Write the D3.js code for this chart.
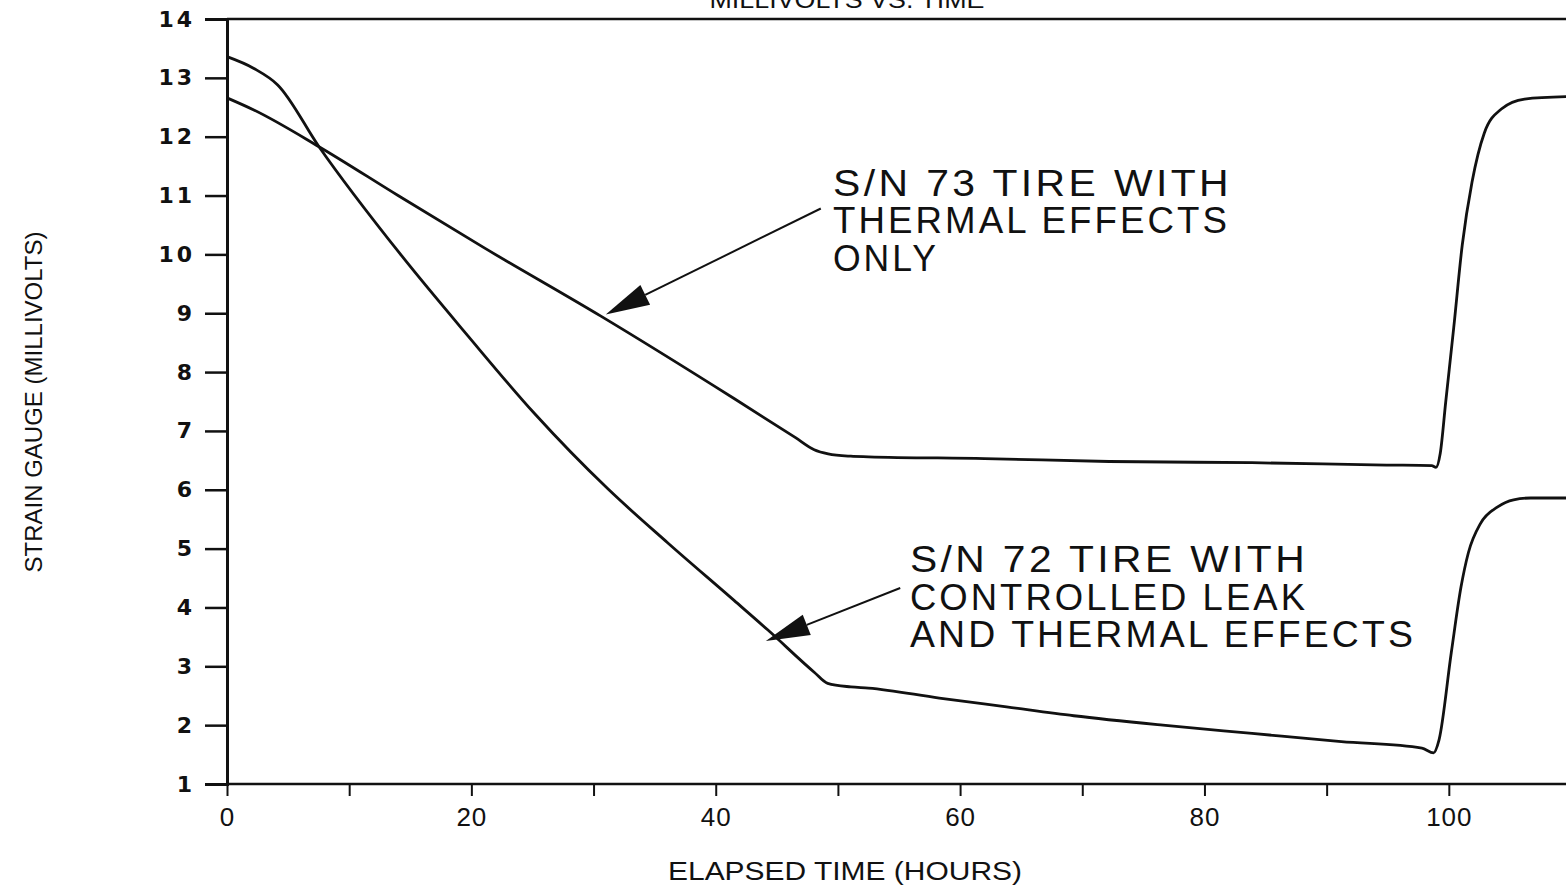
<!DOCTYPE html>
<html>
<head>
<meta charset="utf-8">
<script src="https://cdn.jsdelivr.net/npm/d3@7"></script>
<style>
  html, body { margin: 0; padding: 0; background: #fff; }
  svg { display: block; }
</style>
</head>
<body>
<svg id="chart" width="1566" height="886"></svg>
<script>
// ---- Data ----
const hours73 = [0, 2.24, 7.53, 14.0, 21.06, 30.6, 41.5, 46.5, 48.06, 49.2, 51.06, 52.5, 62, 72.2, 83.9, 94.9, 98.6, 98.95, 99.3, 99.75, 100.4, 101.1, 101.9, 102.9, 104.3, 106.2, 109.7];
const mv73    = [12.66, 12.45, 11.83, 11.0, 10.11, 8.95, 7.55, 6.89, 6.68, 6.61, 6.57, 6.56, 6.53, 6.48, 6.46, 6.42, 6.41, 6.38, 6.62, 7.5, 8.75, 10.16, 11.23, 12.06, 12.47, 12.64, 12.68];

const hours72 = [0, 2.2, 4.15, 7.53, 14.24, 19.7, 25.15, 31.15, 36.06, 41.5, 44.25, 48.06, 49.16, 51.06, 52.5, 58.3, 63.8, 69.3, 76.6, 83.9, 91.2, 97.8, 98.75, 99.2, 100.2, 101.0, 101.6, 102.6, 104.0, 105.3, 106.7, 109.7];
const mv72    = [13.36, 13.16, 12.88, 11.83, 9.99, 8.62, 7.30, 6.02, 5.1, 4.12, 3.62, 2.9, 2.71, 2.65, 2.63, 2.46, 2.31, 2.16, 2.0, 1.86, 1.72, 1.61, 1.53, 1.75, 3.23, 4.35, 4.93, 5.43, 5.71, 5.83, 5.86, 5.86];

const yTickValues = [1, 2, 3, 4, 5, 6, 7, 8, 9, 10, 11, 12, 13, 14];
const xTickValues = [0, 10, 20, 30, 40, 50, 60, 70, 80, 90, 100];
const xLabelValues = [0, 20, 40, 60, 80, 100];

const titleText = "MILLIVOLTS VS. TIME";
const xTitle = "ELAPSED TIME (HOURS)";
const yTitle = "STRAIN GAUGE (MILLIVOLTS)";
const note73 = ["S/N 73 TIRE WITH", "THERMAL EFFECTS", "ONLY"];
const note72 = ["S/N 72 TIRE WITH", "CONTROLLED LEAK", "AND THERMAL EFFECTS"];
// arrow anchors in data units: [fromHour, fromMv, toHour, toMv]
const arrow73 = [48.6, 10.78, 31.0, 8.98];
const arrow72 = [55.1, 4.33, 44.1, 3.43];

// ---- Layout ----
const svg = d3.select("#chart");
const x = d3.scaleLinear().domain([0, 110]).range([227, 1571]);
const y = d3.scaleLinear().domain([1, 14]).range([784, 19]);

const ink = "#111";

// frame: top line
svg.append("line")
  .attr("x1", x(0)).attr("x2", x(110))
  .attr("y1", y(14)).attr("y2", y(14))
  .attr("stroke", ink).attr("stroke-width", 2.5);

// left axis
const yAxis = d3.axisLeft(y).tickValues(yTickValues).tickSize(22).tickPadding(10).tickFormat(d3.format("d"));
const gy = svg.append("g").attr("transform", `translate(${x(0)},0)`).call(yAxis);
gy.select(".domain").attr("stroke", ink).attr("stroke-width", 3);
gy.selectAll(".tick line").attr("stroke", ink).attr("stroke-width", 2.5);
gy.selectAll(".tick text")
  .attr("fill", ink)
  .style("font-family", "'DejaVu Sans', sans-serif")
  .style("font-weight", "bold")
  .style("font-size", "22px")
  .style("letter-spacing", "3px");

// bottom axis
const xAxis = d3.axisBottom(x).tickValues(xTickValues).tickSize(12).tickPadding(12)
  .tickFormat(d => xLabelValues.includes(d) ? d3.format("d")(d) : "");
const gx = svg.append("g").attr("transform", `translate(0,${y(1)})`).call(xAxis);
gx.select(".domain").attr("d", `M${x(0)},0H${x(110)}`).attr("stroke", ink).attr("stroke-width", 2.5);
gx.selectAll(".tick line").attr("stroke", ink).attr("stroke-width", 2);
gx.selectAll(".tick text")
  .attr("fill", ink)
  .style("font-family", "'Liberation Sans Narrow', 'Liberation Sans', sans-serif")
  .style("font-size", "26px")
  .style("letter-spacing", "1px");

// series lines
const line = d3.line().x(d => x(d[0])).y(d => y(d[1])).curve(d3.curveMonotoneX);
const s73 = hours73.map((h, i) => [h, mv73[i]]);
const s72 = hours72.map((h, i) => [h, mv72[i]]);
[s73, s72].forEach(s => {
  svg.append("path").datum(s).attr("d", line)
    .attr("fill", "none").attr("stroke", ink).attr("stroke-width", 2.8)
    .attr("stroke-linejoin", "round");
});

// arrows
function drawArrow(a) {
  const x1 = x(a[0]), y1 = y(a[1]), x2 = x(a[2]), y2 = y(a[3]);
  const dx = x2 - x1, dy = y2 - y1, L = Math.hypot(dx, dy);
  const ux = dx / L, uy = dy / L;
  const headLen = 44, headW = 11;
  const bx = x2 - ux * headLen, by = y2 - uy * headLen;
  svg.append("line").attr("x1", x1).attr("y1", y1).attr("x2", bx).attr("y2", by)
    .attr("stroke", ink).attr("stroke-width", 2);
  svg.append("path")
    .attr("d", `M${x2},${y2}L${bx - uy * headW},${by + ux * headW}L${bx + uy * headW},${by - ux * headW}Z`)
    .attr("fill", ink);
}
drawArrow(arrow73);
drawArrow(arrow72);

// annotation texts
function note(lines, hx, baseMv, widths) {
  lines.forEach((t, i) => {
    svg.append("text")
      .attr("x", x(hx)).attr("y", y(baseMv) + i * 37.5)
      .attr("textLength", widths[i]).attr("lengthAdjust", "spacingAndGlyphs")
      .attr("fill", ink)
      .style("font-family", "'Liberation Sans', sans-serif")
      .style("font-size", "36px")
      .style("letter-spacing", "3px")
      .text(t);
  });
}
note(note73, 49.6, 11.0, [399, 397, 106]);
note(note72, 55.9, 4.6, [398, 398, 506]);

// titles
svg.append("text")
  .attr("x", 847).attr("y", 8).attr("text-anchor", "middle")
  .attr("textLength", 275).attr("lengthAdjust", "spacingAndGlyphs")
  .attr("fill", ink)
  .style("font-family", "'Liberation Sans', sans-serif").style("font-size", "24px")
  .text(titleText);

svg.append("text")
  .attr("x", 845).attr("y", 880).attr("text-anchor", "middle")
  .attr("textLength", 354).attr("lengthAdjust", "spacingAndGlyphs")
  .attr("fill", ink)
  .style("font-family", "'Liberation Sans', sans-serif").style("font-size", "25px")
  .text(xTitle);

svg.append("text")
  .attr("transform", "translate(42,402) rotate(-90)")
  .attr("text-anchor", "middle")
  .attr("textLength", 341).attr("lengthAdjust", "spacingAndGlyphs")
  .attr("fill", ink)
  .style("font-family", "'Liberation Sans', sans-serif").style("font-size", "24px")
  .text(yTitle);
</script>
</body>
</html>
